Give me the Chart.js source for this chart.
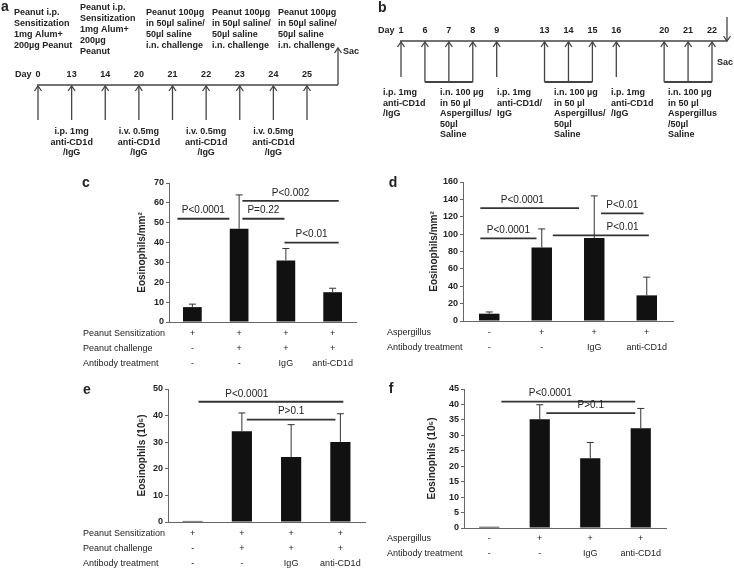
<!DOCTYPE html>
<html lang="en">
<head>
<meta charset="UTF-8">
<title>Eosinophils - anti-CD1d</title>
<script src="https://cdn.jsdelivr.net/npm/chart.js"></script>
<style>
  body { margin: 0; background: #fff; }
  .fig { position: relative; width: 734px; height: 570px; }
  .fig canvas { position: absolute; }
</style>
</head>
<body>
<div class="fig">
  <canvas id="panelA" width="370" height="168" style="left:0;top:0"></canvas>
  <canvas id="panelB" width="364" height="168" style="left:370px;top:0"></canvas>
  <canvas id="panelC" width="367" height="200" style="left:0;top:170px"></canvas>
  <canvas id="panelD" width="367" height="200" style="left:367px;top:170px"></canvas>
  <canvas id="panelE" width="367" height="200" style="left:0;top:370px"></canvas>
  <canvas id="panelF" width="367" height="200" style="left:367px;top:370px"></canvas>
</div>
<script>
// ---- panel a: peanut protocol
const aDays = ['0', '13', '14', '20', '21', '22', '23', '24', '25'];
const aAntibodyDays = ['13', '20', '22', '24'];
const aTopNotes = [
  ['Peanut i.p.', 'Sensitization', '1mg Alum+', '200µg Peanut'],
  ['Peanut i.p.', 'Sensitization', '1mg Alum+', '200µg', 'Peanut'],
  ['Peanut 100µg', 'in 50µl saline/', '50µl saline', 'i.n. challenge'],
  ['Peanut 100µg', 'in 50µl saline/', '50µl saline', 'i.n. challenge'],
  ['Peanut 100µg', 'in 50µl saline/', '50µl saline', 'i.n. challenge']
];
const aAntibodyNotes = [
  ['i.p. 1mg', 'anti-CD1d', '/IgG'],
  ['i.v. 0.5mg', 'anti-CD1d', '/IgG'],
  ['i.v. 0.5mg', 'anti-CD1d', '/IgG'],
  ['i.v. 0.5mg', 'anti-CD1d', '/IgG']
];

// ---- panel b: aspergillus protocol ('' = gap on the time line)
const bDays = ['1', '6', '7', '8', '9', '', '13', '14', '15', '16', '', '20', '21', '22'];
const bChallengeDays = ['6', '7', '8', '13', '14', '15', '20', '21', '22'];
const bNotes = [
  ['i.p. 1mg', 'anti-CD1d', '/IgG'],
  ['i.n. 100 µg', 'in 50 µl', 'Aspergillus/', '50µl', 'Saline'],
  ['i.p. 1mg', 'anti-CD1d/', 'IgG'],
  ['i.n. 100 µg', 'in 50 µl', 'Aspergillus/', '50µl', 'Saline'],
  ['i.p. 1mg', 'anti-CD1d', '/IgG'],
  ['i.n. 100 µg', 'in 50 µl', 'Aspergillus', '/50µl', 'Saline']
];

// ---- bar panels
const groups = ['control', 'challenge', 'IgG', 'anti-CD1d'];
const peanutRowLabels = ['Peanut Sensitization', 'Peanut challenge', 'Antibody treatment'];
const peanutRows = [['+', '+', '+', '+'], ['-', '+', '+', '+'], ['-', '-', 'IgG', 'anti-CD1d']];
const aspRowLabels = ['Aspergillus', 'Antibody treatment'];
const aspRows = [['-', '+', '+', '+'], ['-', '-', 'IgG', 'anti-CD1d']];

const cMeans = [7.5, 47, 31, 15];
const cErrs = [1.5, 17, 6, 2];
const cBrackets = [
  { from: -0.32, to: 0.79, y: 52, text: 'P<0.0001' },
  { from: 1.07, to: 1.97, y: 52, text: 'P=0.22' },
  { from: 1.07, to: 3.13, y: 61, text: 'P<0.002' },
  { from: 1.97, to: 3.13, y: 40, text: 'P<0.01' }
];

const dMeans = [8.4, 84.5, 95.5, 29.5];
const dErrs = [2, 21.5, 48.5, 21];
const dBrackets = [
  { from: -0.17, to: 1.71, y: 130, text: 'P<0.0001', at: 0.63 },
  { from: -0.17, to: 0.9, y: 95, text: 'P<0.0001' },
  { from: 1.21, to: 3.04, y: 98.6, text: 'P<0.01', at: 2.54 },
  { from: 2.13, to: 2.94, y: 124, text: 'P<0.01' }
];

const eMeans = [0.4, 34.1, 24.4, 30.1];
const eErrs = [0, 6.9, 12.2, 10.6];
const eBrackets = [
  { from: 0.12, to: 3.06, y: 45.2, text: 'P<0.0001', at: 1.1 },
  { from: 1.1, to: 2.9, y: 38.5, text: 'P>0.1' }
];

const fMeans = [0.4, 35.2, 22.6, 32.3];
const fErrs = [0, 4.7, 5.1, 6.4];
const fBrackets = [
  { from: 0.24, to: 2.89, y: 40.9, text: 'P<0.0001', at: 1.21 },
  { from: 1.13, to: 2.89, y: 37.2, text: 'P>0.1' }
];

const FONT = '"Liberation Sans", Arial, sans-serif';
Chart.defaults.font.family = FONT;
Chart.defaults.color = '#222';

function line(ctx, x1, y1, x2, y2) {
  ctx.beginPath(); ctx.moveTo(x1, y1); ctx.lineTo(x2, y2); ctx.stroke();
}
// vertical arrow, head at "to"
function arrow(ctx, x, from, to) {
  line(ctx, x, from, x, to);
  const d = to < from ? 5 : -5;
  ctx.beginPath(); ctx.moveTo(x - 3.5, to + d); ctx.lineTo(x, to); ctx.lineTo(x + 3.5, to + d); ctx.stroke();
}
function textLines(ctx, lines, x, y, lh) {
  lines.forEach((t, i) => ctx.fillText(t, x, y + i * lh));
}

function timelineScales() {
  return {
    x: {
      position: 'top', offset: false,
      grid: { display: false }, border: { display: false }, ticks: { display: false },
      afterFit: s => { s.height = 20; }
    },
    y: { display: false, min: 0, max: 1 }
  };
}

// day numbers above the time line
function dayLabels(chart, ctx, days, top) {
  const xs = chart.scales.x;
  ctx.font = 'bold 9px ' + FONT;
  ctx.textBaseline = 'middle'; ctx.textAlign = 'center';
  days.forEach((d, i) => { if (d) ctx.fillText(d, xs.getPixelForValue(i), top - 10); });
  ctx.textAlign = 'left';
  ctx.fillText('Day', xs.getPixelForValue(0) - 23, top - 10);
}

const protocolA = {
  id: 'protocolA',
  afterDraw(chart) {
    const ctx = chart.ctx, xs = chart.scales.x, top = chart.chartArea.top;
    const px = d => xs.getPixelForValue(aDays.indexOf(d));
    ctx.save();
    ctx.strokeStyle = '#444'; ctx.lineWidth = 1.3; ctx.fillStyle = '#222';
    const sacX = chart.chartArea.right + 31;
    line(ctx, px('0') - 1, top, sacX, top);
    arrow(ctx, sacX, top, top - 37);
    aDays.forEach(d => arrow(ctx, px(d), top + 35, top + 1));
    dayLabels(chart, ctx, aDays, top);
    ctx.fillText('Sac', sacX + 5, top - 33);
    aTopNotes.forEach((n, i) => textLines(ctx, n, 14 + 66 * i, 29.5 - (n.length - 1) * 5.5, 11));
    ctx.textAlign = 'center';
    aAntibodyDays.forEach((d, i) => textLines(ctx, aAntibodyNotes[i], px(d), top + 47, 10.5));
    ctx.font = 'bold 14px ' + FONT; ctx.textAlign = 'left';
    ctx.fillText('a', 1, 7);
    ctx.restore();
  }
};

const protocolB = {
  id: 'protocolB',
  afterDraw(chart) {
    const ctx = chart.ctx, xs = chart.scales.x, top = chart.chartArea.top;
    const px = d => xs.getPixelForValue(bDays.indexOf(d));
    ctx.save();
    ctx.strokeStyle = '#444'; ctx.lineWidth = 1.3; ctx.fillStyle = '#222';
    const sacX = chart.chartArea.right + 15;
    line(ctx, px('1') - 1, top, sacX, top);
    arrow(ctx, sacX, top - 24, top);
    // arrows; challenge days hang down to a group bar
    bDays.forEach(d => {
      if (!d) return;
      const low = bChallengeDays.includes(d) ? 41 : 36;
      arrow(ctx, px(d), top + low, top + 1);
    });
    // group bars for consecutive challenge days
    ctx.lineWidth = 1.8;
    let run = [];
    bDays.forEach((d, i) => {
      if (bChallengeDays.includes(d)) run.push(i);
      if ((!bChallengeDays.includes(d) || i === bDays.length - 1) && run.length) {
        line(ctx, xs.getPixelForValue(run[0]), top + 41, xs.getPixelForValue(run[run.length - 1]), top + 41);
        run = [];
      }
    });
    dayLabels(chart, ctx, bDays, top);
    ctx.fillText('Sac', sacX - 10, top + 22);
    bNotes.forEach((n, i) => textLines(ctx, n, 13 + 57 * i, top + 52, 10.5));
    ctx.font = 'bold 14px ' + FONT;
    ctx.fillText('b', 8, 8);
    ctx.restore();
  }
};

new Chart(document.getElementById('panelA'), {
  type: 'bar',
  data: { labels: aDays, datasets: [] },
  options: {
    responsive: false, animation: false,
    layout: { padding: { left: 38, right: 63, top: 65, bottom: 20 } },
    plugins: { legend: { display: false }, tooltip: { enabled: false } },
    scales: timelineScales()
  },
  plugins: [protocolA]
});

new Chart(document.getElementById('panelB'), {
  type: 'bar',
  data: { labels: bDays, datasets: [] },
  options: {
    responsive: false, animation: false,
    layout: { padding: { left: 31, right: 22, top: 21, bottom: 20 } },
    plugins: { legend: { display: false }, tooltip: { enabled: false } },
    scales: timelineScales()
  },
  plugins: [protocolB]
});

// error bars, p-value brackets, treatment table, panel letter
function eosExtras(o) {
  return {
    id: 'eosExtras',
    afterDatasetsDraw(chart) {
      const ctx = chart.ctx, ys = chart.scales.y;
      ctx.save();
      ctx.strokeStyle = '#333'; ctx.lineWidth = 1;
      chart.getDatasetMeta(0).data.forEach((bar, i) => {
        if (!o.errs[i]) return;
        const yTop = ys.getPixelForValue(o.means[i] + o.errs[i]);
        line(ctx, bar.x, bar.y, bar.x, yTop);
        line(ctx, bar.x - 3.5, yTop, bar.x + 3.5, yTop);
      });
      ctx.restore();
    },
    afterDraw(chart) {
      const ctx = chart.ctx, xs = chart.scales.x, ys = chart.scales.y;
      const p0 = xs.getPixelForValue(0), step = xs.getPixelForValue(1) - p0;
      const xAt = f => p0 + f * step;
      ctx.save();
      ctx.strokeStyle = '#333'; ctx.lineWidth = 1.8; ctx.fillStyle = '#222';
      ctx.font = '10px ' + FONT; ctx.textAlign = 'center'; ctx.textBaseline = 'bottom';
      o.brackets.forEach(b => {
        const y = ys.getPixelForValue(b.y);
        line(ctx, xAt(b.from), y, xAt(b.to), y);
        ctx.fillText(b.text, xAt(b.at !== undefined ? b.at : (b.from + b.to) / 2), y - 3);
      });
      ctx.font = '9px ' + FONT; ctx.textBaseline = 'middle';
      o.rowLabels.forEach((lab, r) => {
        const y = chart.chartArea.bottom + o.rowTop + r * 15;
        ctx.textAlign = 'left'; ctx.fillText(lab, o.rowX, y);
        ctx.textAlign = 'center';
        o.rows[r].forEach((s, i) => ctx.fillText(s, xs.getPixelForValue(i), y));
      });
      ctx.font = 'bold 14px ' + FONT; ctx.textAlign = 'center';
      ctx.fillText(o.letter, o.letterX, o.letterY);
      ctx.restore();
    }
  };
}

function eosChart(id, o) {
  return new Chart(document.getElementById(id), {
    type: 'bar',
    data: {
      labels: groups,
      datasets: [{ data: o.means, backgroundColor: '#111', categoryPercentage: 1, barPercentage: o.barPct }]
    },
    options: {
      responsive: false, animation: false,
      layout: { padding: o.pad },
      plugins: { legend: { display: false }, tooltip: { enabled: false } },
      scales: {
        x: {
          grid: { display: false }, border: { color: '#666' }, ticks: { display: false },
          afterFit: s => { s.height = 0; }
        },
        y: {
          min: 0, max: o.max,
          ticks: { stepSize: o.step, font: { size: 9, weight: 'bold' }, color: '#222', padding: 2 },
          grid: { drawOnChartArea: false, tickLength: 3, color: '#666' },
          border: { color: '#666' },
          title: { display: true, text: o.title, font: { size: 10, weight: 'bold' }, color: '#222', padding: { top: 4, bottom: 0 } },
          afterFit: s => { s.width = o.yWidth; }
        }
      }
    },
    plugins: [eosExtras(o)]
  });
}

eosChart('panelC', {
  means: cMeans, errs: cErrs, brackets: cBrackets, max: 70, step: 10,
  title: 'Eosinophils/mm²', rowLabels: peanutRowLabels, rows: peanutRows,
  pad: { left: 132, right: 11, top: 13, bottom: 48 }, yWidth: 37, barPct: 0.4,
  rowX: 83, rowTop: 11.5, letter: 'c', letterX: 86, letterY: 13
});
eosChart('panelD', {
  means: dMeans, errs: dErrs, brackets: dBrackets, max: 160, step: 20,
  title: 'Eosinophils/mm²', rowLabels: aspRowLabels, rows: aspRows,
  pad: { left: 57, right: 61, top: 12, bottom: 49 }, yWidth: 39, barPct: 0.39,
  rowX: 20, rowTop: 12, letter: 'd', letterX: 26, letterY: 13
});
eosChart('panelE', {
  means: eMeans, errs: eErrs, brackets: eBrackets, max: 50, step: 10,
  title: 'Eosinophils (10⁵)', rowLabels: peanutRowLabels, rows: peanutRows,
  pad: { left: 132, right: 2, top: 19, bottom: 48 }, yWidth: 36, barPct: 0.41,
  rowX: 83, rowTop: 12, letter: 'e', letterX: 87, letterY: 20
});
eosChart('panelF', {
  means: fMeans, errs: fErrs, brackets: fBrackets, max: 45, step: 5,
  title: 'Eosinophils (10⁵)', rowLabels: aspRowLabels, rows: aspRows,
  pad: { left: 55, right: 68, top: 19, bottom: 42 }, yWidth: 42, barPct: 0.4,
  rowX: 20, rowTop: 11, letter: 'f', letterX: 24, letterY: 19
});
</script>
</body>
</html>
